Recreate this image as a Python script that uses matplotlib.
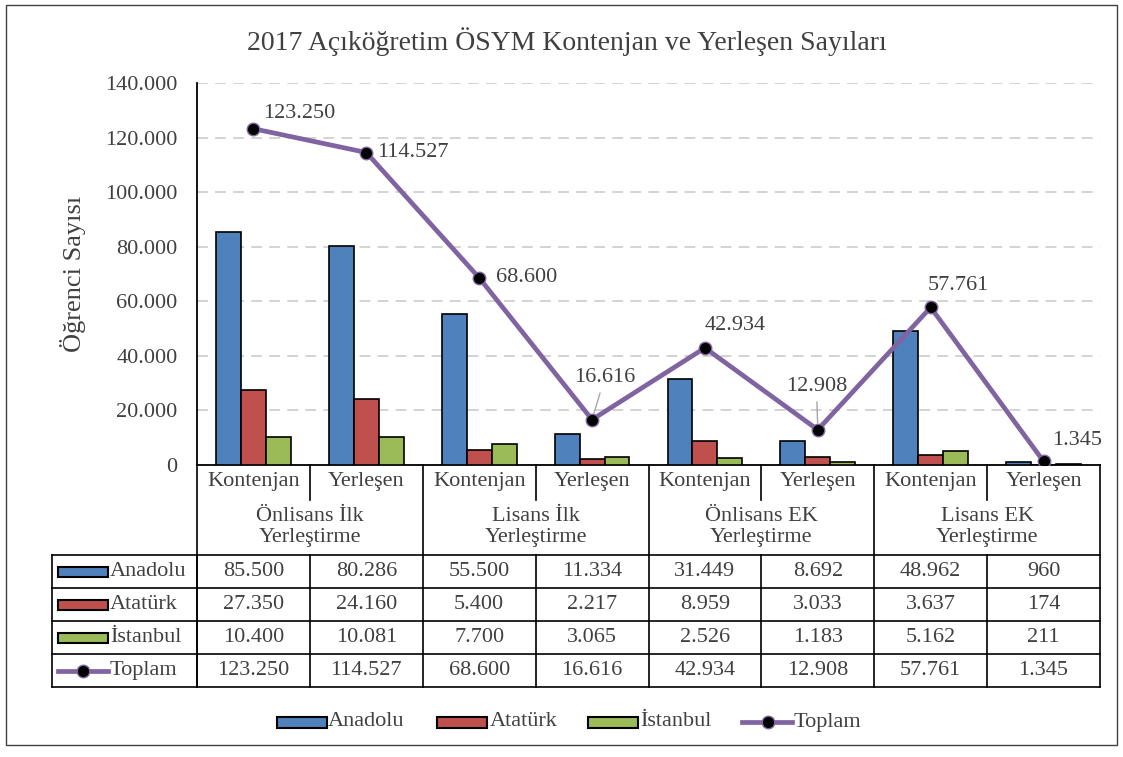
import matplotlib.pyplot as plt
from matplotlib.lines import Line2D
from matplotlib.patches import Rectangle
from matplotlib.transforms import blended_transform_factory

cats = ["Kontenjan", "Yerleşen"] * 4
groups = ["Önlisans İlk\nYerleştirme", "Lisans İlk\nYerleştirme",
          "Önlisans EK\nYerleştirme", "Lisans EK\nYerleştirme"]
anadolu = [85500, 80286, 55500, 11334, 31449, 8692, 48962, 960]
ataturk = [27350, 24160, 5400, 2217, 8959, 3033, 3637, 174]
istanbul = [10400, 10081, 7700, 3065, 2526, 1183, 5162, 211]
toplam = [123250, 114527, 68600, 16616, 42934, 12908, 57761, 1345]
series_names = ["Anadolu", "Atatürk", "İstanbul", "Toplam"]

colors = ["#4F81BD", "#C0504D", "#9BBB59"]
purple = "#8064A2"
txt = "#404040"
FONT = "Liberation Serif"
W, H = 1123, 757


def fmt(v):
    return f"{v:,}".replace(",", ".")


def px(x):
    return x / W


def py(y):
    return 1 - y / H


plt.rcParams["font.family"] = [FONT, "DejaVu Serif"]
fig = plt.figure(figsize=(W / 100, H / 100), dpi=100)
ax = fig.add_axes([px(197), py(465), px(1100) - px(197), py(83) - py(465)])

n = len(cats)
x = list(range(n))
bw = 0.221
for k, vals in enumerate([anadolu, ataturk, istanbul]):
    ax.bar([i + (k - 1) * bw for i in x], vals, width=bw, color=colors[k],
           edgecolor="black", linewidth=1.2, zorder=3)
ax.plot(x, toplam, color=purple, lw=3.4, marker="o", ms=9, mfc="black",
        mec=purple, mew=1, zorder=4)

# data labels for Toplam (offsets in points)
offs = [(7, 11, "left"), (8, 0, "left"), (12, 0, "left"), (9, 30, "center"),
        (22, 16, "center"), (-1, 31, "center"), (20, 16, "center"), (6, 15, "left")]
for i, (dx, dy, ha) in enumerate(offs):
    lead = i in (3, 5)
    ax.annotate(fmt(toplam[i]), (x[i], toplam[i]), xytext=(dx, dy),
                textcoords="offset points", ha=ha, va="center", fontsize=16,
                color=txt, zorder=5,
                arrowprops=dict(arrowstyle="-", color="#A6A6A6", lw=1,
                                shrinkA=2, shrinkB=5) if lead else None)

ax.set_xlim(-0.5, n - 0.5)
ax.set_ylim(0, 140000)
ax.set_yticks(range(0, 140001, 20000))
ax.set_yticklabels([fmt(v) for v in range(0, 140001, 20000)], fontsize=16, color=txt)
ax.tick_params(axis="y", length=0, pad=14)
ax.set_xticks([])
ax.grid(axis="y", color="#D0D0D0", lw=1.3, ls=(0, (6, 4)), zorder=0)
for s in ["top", "right"]:
    ax.spines[s].set_visible(False)
ax.spines["left"].set_linewidth(1.3)
ax.spines["bottom"].set_linewidth(1.3)
ax.set_ylabel("Öğrenci Sayısı", fontsize=19, color=txt, labelpad=14)

# category table below the axis
tr = blended_transform_factory(ax.transData, fig.transFigure)
line_kw = dict(color="black", lw=1.2)
for i, c in enumerate(cats):
    ax.text(i, py(482), c, transform=tr, ha="center", va="center",
            fontsize=16, color=txt)
for g, lab in enumerate(groups):
    ax.text(2 * g + 0.5, py(527), lab, transform=tr, ha="center", va="center",
            fontsize=16, color=txt, linespacing=1.2)

rows = [anadolu, ataturk, istanbul, toplam]
row_y = [555, 588, 621, 654, 687]
for r, vals in enumerate(rows):
    yc = (row_y[r] + row_y[r + 1]) / 2
    for i, v in enumerate(vals):
        ax.text(i, py(yc), fmt(v), transform=tr, ha="center", va="center",
                fontsize=16, color=txt)
    fig.text(px(110), py(yc), series_names[r], ha="left", va="center",
             fontsize=16, color=txt)
    if r < 3:
        fig.add_artist(Rectangle((px(58), py(yc + 5)), px(108) - px(58),
                                 py(yc - 5) - py(yc + 5), transform=fig.transFigure,
                                 facecolor=colors[r], edgecolor="black", lw=1.5))
    else:
        fig.add_artist(Line2D([px(58), px(108)], [py(yc), py(yc)], color=purple,
                              lw=3.4, transform=fig.transFigure))
        fig.add_artist(Line2D([px(83)], [py(yc)], marker="o", ms=9, mfc="black",
                              mec=purple, transform=fig.transFigure))

# horizontal table lines
for y in row_y:
    fig.add_artist(Line2D([px(52), px(1100)], [py(y), py(y)],
                          transform=fig.transFigure, **line_kw))
fig.add_artist(Line2D([px(52), px(52)], [py(555), py(687)],
                      transform=fig.transFigure, **line_kw))
fig.add_artist(Line2D([px(197), px(197)], [py(555), py(687)],
                      transform=fig.transFigure, **line_kw))
# vertical lines at category boundaries
for b in range(n + 1):
    xb = b - 0.5
    if b % 2 == 0:
        ys = [py(465), py(687)]
    else:
        fig.add_artist(Line2D([xb, xb], [py(465), py(500)], transform=tr, **line_kw))
        ys = [py(555), py(687)]
    fig.add_artist(Line2D([xb, xb], ys, transform=tr, **line_kw))

# legend at bottom
leg = [(277, 328), (437, 490), (588, 640), (742, 794)]
for k, (x0, xt) in enumerate(leg):
    if k < 3:
        fig.add_artist(Rectangle((px(x0), py(728)), px(x0 + 50) - px(x0),
                                 py(717) - py(728), transform=fig.transFigure,
                                 facecolor=colors[k], edgecolor="black", lw=1.5))
    else:
        fig.add_artist(Line2D([px(x0), px(x0 + 50)], [py(722), py(722)],
                              color=purple, lw=3.4, transform=fig.transFigure))
        fig.add_artist(Line2D([px(x0 + 26)], [py(722)], marker="o", ms=9,
                              mfc="black", mec=purple, transform=fig.transFigure))
    fig.text(px(xt), py(722), series_names[k], ha="left", va="center",
             fontsize=16, color=txt)

fig.text(px(567), py(42), "2017 Açıköğretim ÖSYM Kontenjan ve Yerleşen Sayıları",
         ha="center", va="center", fontsize=20, color=txt)

# outer border
fig.add_artist(Rectangle((px(6), py(745)), px(1117) - px(6), py(5) - py(745),
                         transform=fig.transFigure, fill=False,
                         edgecolor="#404040", lw=1))

fig.savefig("out.png", dpi=100)
